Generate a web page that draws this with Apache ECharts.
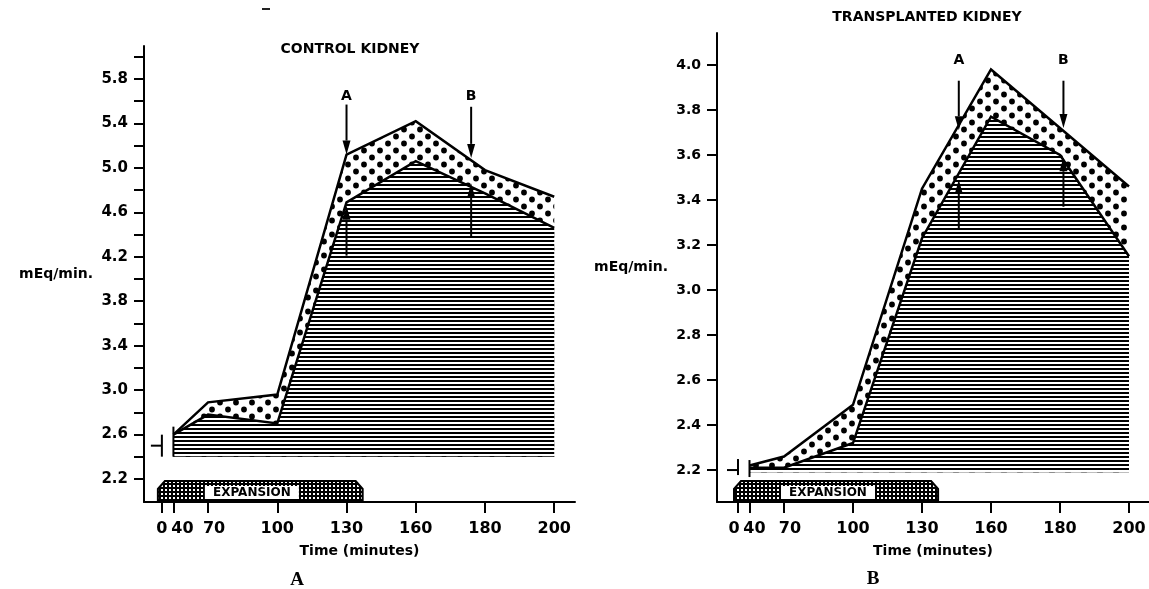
<!DOCTYPE html>
<html>
<head>
<meta charset="utf-8">
<title>Control vs transplanted kidney</title>
<script src="https://cdn.jsdelivr.net/npm/echarts@6/dist/echarts.min.js"></script>
<style>
  html, body { margin: 0; padding: 0; background: #fff; }
  #chart { width: 1149px; height: 589px; }
</style>
</head>
<body>
<div id="chart"></div>
<script>
// time axis, minutes (0 and 40 are squeezed next to each other on the paper)
const TICK_MINUTES = [0, 40, 70, 100, 130, 160, 180, 200]
const TIMES = [40, 70, 100, 130, 160, 180, 200]
const EXPANSION = [0, 137]

// A - control kidney (mEq/min)
const CONTROL_UPPER = [2.60, 2.89, 2.96, 5.12, 5.42, 4.98, 4.74]
const CONTROL_LOWER = [2.60, 2.78, 2.70, 4.69, 5.06, 4.77, 4.46]
const CONTROL_BASELINE = 2.5
const CONTROL_FLOOR = 2.4
const CONTROL_Y_TICKS = [2.2, 2.4, 2.6, 2.8, 3.0, 3.2, 3.4, 3.6, 3.8, 4.0, 4.2, 4.4, 4.6, 4.8, 5.0, 5.2, 5.4, 5.6, 5.8, 6.0]
const CONTROL_Y_LABELS = [2.2, 2.6, 3.0, 3.4, 3.8, 4.2, 4.6, 5.0, 5.4, 5.8]
const CONTROL_ARROW_TIMES = [130, 176, 130, 176]
const CONTROL_ARROW_FROM = [5.57, 5.55, 4.21, 4.38]
const CONTROL_ARROW_TO = [5.12, 5.09, 4.66, 4.86]
const CONTROL_ARROW_NAMES = ['A', 'B', '', '']
const CONTROL_LETTER_LEVEL = 5.64

// B - transplanted kidney (mEq/min)
const TRANSPLANT_UPPER = [2.22, 2.26, 2.49, 3.45, 3.98, 3.72, 3.46]
const TRANSPLANT_LOWER = [2.21, 2.21, 2.32, 3.23, 3.77, 3.60, 3.15]
const TRANSPLANT_BASELINE = 2.2
const TRANSPLANT_FLOOR = 2.19
const TRANSPLANT_Y_TICKS = [2.2, 2.4, 2.6, 2.8, 3.0, 3.2, 3.4, 3.6, 3.8, 4.0]
const TRANSPLANT_Y_LABELS = [2.2, 2.4, 2.6, 2.8, 3.0, 3.2, 3.4, 3.6, 3.8, 4.0]
const TRANSPLANT_ARROW_TIMES = [146, 181, 146, 181]
const TRANSPLANT_ARROW_FROM = [3.93, 3.93, 3.27, 3.37]
const TRANSPLANT_ARROW_TO = [3.71, 3.72, 3.49, 3.59]
const TRANSPLANT_ARROW_NAMES = ['A', 'B', '', '']
const TRANSPLANT_LETTER_LEVEL = 4.02

// where each tick minute sits on the (uneven) time axis
const TICK_SLOTS = [4 / 3, 1.5, 2, 3, 4, 5, 6, 7]

const FONT = 'DejaVu Sans'

function toSlot(t) {
  let i = 0
  while (i < TICK_MINUTES.length - 2 && t > TICK_MINUTES[i + 1]) i++
  const k0 = TICK_MINUTES[i], k1 = TICK_MINUTES[i + 1]
  return TICK_SLOTS[i] + (t - k0) / (k1 - k0) * (TICK_SLOTS[i + 1] - TICK_SLOTS[i])
}

// fill patterns
function makePattern(w, h, draw) {
  const c = document.createElement('canvas')
  c.width = w
  c.height = h
  draw(c.getContext('2d'))
  return { image: c, repeat: 'repeat' }
}
const hatch = makePattern(4, 4, (ctx) => {
  ctx.fillStyle = '#fff'
  ctx.fillRect(0, 0, 4, 4)
  ctx.fillStyle = '#000'
  ctx.fillRect(0, 0, 4, 2)
})
const dots = makePattern(16, 14, (ctx) => {
  ctx.fillStyle = '#fff'
  ctx.fillRect(0, 0, 16, 14)
  ctx.fillStyle = '#000'
  ctx.beginPath()
  ctx.arc(4, 3.5, 2.9, 0, Math.PI * 2)
  ctx.closePath()
  ctx.arc(12, 10.5, 2.9, 0, Math.PI * 2)
  ctx.closePath()
  ctx.fill()
})
const stipple = makePattern(4, 4, (ctx) => {
  ctx.fillStyle = '#000'
  ctx.fillRect(0, 0, 4, 4)
  ctx.fillStyle = '#fff'
  ctx.fillRect(1, 1, 2, 2)
})

const PANELS = [
  {
    grid: { left: 144, top: 46, width: 431, height: 456 },
    xRange: [1.075, 7.3],
    yRange: [1.993, 6.097],
    yTicks: CONTROL_Y_TICKS,
    yLabels: CONTROL_Y_LABELS,
    yFont: 15,
    yNameGap: 51,
    upper: CONTROL_UPPER,
    lower: CONTROL_LOWER,
    floor: CONTROL_FLOOR,
    baseline: CONTROL_BASELINE,
    arrowTimes: CONTROL_ARROW_TIMES,
    arrowFrom: CONTROL_ARROW_FROM,
    arrowTo: CONTROL_ARROW_TO,
    arrowNames: CONTROL_ARROW_NAMES,
    letterLevel: CONTROL_LETTER_LEVEL,
    labelShift: [0, 9, 6, 0, 0, 0, 0, 0],
    marker: { up0: 11, down0: 11, up40: 19, down40: 11 }
  },
  {
    grid: { left: 717, top: 33, width: 432, height: 469 },
    xRange: [1.029, 7.29],
    yRange: [2.058, 4.142],
    yTicks: TRANSPLANT_Y_TICKS,
    yLabels: TRANSPLANT_Y_LABELS,
    yFont: 14,
    yNameGap: 49,
    upper: TRANSPLANT_UPPER,
    lower: TRANSPLANT_LOWER,
    floor: TRANSPLANT_FLOOR,
    baseline: TRANSPLANT_BASELINE,
    arrowTimes: TRANSPLANT_ARROW_TIMES,
    arrowFrom: TRANSPLANT_ARROW_FROM,
    arrowTo: TRANSPLANT_ARROW_TO,
    arrowNames: TRANSPLANT_ARROW_NAMES,
    letterLevel: TRANSPLANT_LETTER_LEVEL,
    labelShift: [-4, 5, 6, 0, 0, 0, 0, 0],
    marker: { up0: 11, down0: 5, up40: 10, down40: 7 }
  }
]

const option = {
  backgroundColor: '#fff',
  animation: false,
  grid: [],
  xAxis: [],
  yAxis: [],
  series: [],
  graphic: [
    { type: 'text', x: 350, y: 49, style: { text: 'CONTROL KIDNEY', font: 'bold 14px ' + FONT, fill: '#000', align: 'center', verticalAlign: 'middle' } },
    { type: 'text', x: 927, y: 17, style: { text: 'TRANSPLANTED KIDNEY', font: 'bold 14px ' + FONT, fill: '#000', align: 'center', verticalAlign: 'middle' } },
    { type: 'text', x: 297, y: 580, style: { text: 'A', font: 'bold 19px "Liberation Serif"', fill: '#000', align: 'center', verticalAlign: 'middle' } },
    { type: 'text', x: 873, y: 579, style: { text: 'B', font: 'bold 19px "Liberation Serif"', fill: '#000', align: 'center', verticalAlign: 'middle' } },
    { type: 'rect', shape: { x: 262, y: 8, width: 8, height: 2 }, style: { fill: '#222' } }
  ]
}

PANELS.forEach((p, i) => {
  option.grid.push(Object.assign({ outerBoundsMode: 'none' }, p.grid))

  const rich = {}
  p.labelShift.forEach((s, k) => {
    rich['s' + k] = {
      fontFamily: FONT,
      fontWeight: 'bold',
      fontSize: 16,
      color: '#000',
      padding: s > 0 ? [0, 0, 0, 2 * s] : [0, -2 * s, 0, 0]
    }
  })

  option.xAxis.push({
    gridIndex: i,
    type: 'value',
    min: p.xRange[0],
    max: p.xRange[1],
    name: 'Time (minutes)',
    nameLocation: 'middle',
    nameGap: 42,
    nameTextStyle: { fontFamily: FONT, fontWeight: 'bold', fontSize: 14, color: '#000' },
    splitLine: { show: false },
    axisLine: { lineStyle: { color: '#000', width: 2 } },
    axisTick: { customValues: TICK_SLOTS, length: 11, lineStyle: { color: '#000', width: 2 } },
    axisLabel: {
      customValues: TICK_SLOTS,
      margin: 19,
      fontFamily: FONT,
      fontWeight: 'bold',
      fontSize: 16,
      color: '#000',
      rich: rich,
      formatter: (v) => {
        const k = TICK_SLOTS.findIndex((s) => Math.abs(s - v) < 0.01)
        if (k < 0) return ''
        const txt = String(TICK_MINUTES[k])
        return p.labelShift[k] ? '{s' + k + '|' + txt + '}' : txt
      }
    }
  })

  option.yAxis.push({
    gridIndex: i,
    type: 'value',
    min: p.yRange[0],
    max: p.yRange[1],
    name: 'mEq/min.',
    nameLocation: 'middle',
    nameRotate: 0,
    nameGap: p.yNameGap,
    nameTextStyle: { fontFamily: FONT, fontWeight: 'bold', fontSize: 14, color: '#000' },
    splitLine: { show: false },
    axisLine: { show: true, lineStyle: { color: '#000', width: 2 } },
    axisTick: { show: true, customValues: p.yTicks, length: 10, lineStyle: { color: '#000', width: 2 } },
    axisLabel: {
      customValues: p.yLabels,
      margin: 16,
      fontFamily: FONT,
      fontWeight: 'bold',
      fontSize: p.yFont,
      color: '#000',
      formatter: (v) => v.toFixed(1)
    }
  })

  // dotted band: area under the upper curve, later covered by the hatched part
  option.series.push({
    type: 'line',
    xAxisIndex: i,
    yAxisIndex: i,
    data: TIMES.map((t, k) => [toSlot(t), p.upper[k]]),
    symbol: 'none',
    silent: true,
    z: 2,
    lineStyle: { color: '#000', width: 2.5, join: 'miter' },
    areaStyle: { color: dots, opacity: 1, origin: p.floor }
  })
  // hatched: area under the lower curve
  option.series.push({
    type: 'line',
    xAxisIndex: i,
    yAxisIndex: i,
    data: TIMES.map((t, k) => [toSlot(t), p.lower[k]]),
    symbol: 'none',
    silent: true,
    z: 3,
    lineStyle: { color: '#000', width: 2.5, join: 'miter' },
    areaStyle: { color: hatch, opacity: 1, origin: p.floor }
  })

  // control value marker at time 0 plus the break at 40
  option.series.push({
    type: 'custom',
    xAxisIndex: i,
    yAxisIndex: i,
    silent: true,
    z: 4,
    data: [[toSlot(0), p.baseline, toSlot(40)]],
    encode: { x: [0, 2], y: 1 },
    renderItem: (params, api) => {
      const m = p.marker
      const a = api.coord([api.value(0), api.value(1)])
      const x40 = api.coord([api.value(2), api.value(1)])[0]
      const st = { stroke: '#000', lineWidth: 2 }
      return {
        type: 'group',
        children: [
          { type: 'line', shape: { x1: a[0] - 11, y1: a[1], x2: a[0], y2: a[1] }, style: st },
          { type: 'line', shape: { x1: a[0], y1: a[1] - m.up0, x2: a[0], y2: a[1] + m.down0 }, style: st },
          { type: 'line', shape: { x1: x40, y1: a[1] - m.up40, x2: x40, y2: a[1] + m.down40 }, style: st }
        ]
      }
    }
  })

  // expansion bar sitting on the time axis
  option.series.push({
    type: 'custom',
    xAxisIndex: i,
    yAxisIndex: i,
    silent: true,
    z: 4,
    data: [[toSlot(EXPANSION[0]), toSlot(EXPANSION[1]), p.yRange[0]]],
    encode: { x: [0, 1], y: 2 },
    renderItem: (params, api) => {
      const cs = params.coordSys
      const bottom = cs.y + cs.height
      const top = bottom - 21
      const x0 = api.coord([api.value(0), api.value(2)])[0] - 4
      const x1 = api.coord([api.value(1), api.value(2)])[0]
      return {
        type: 'group',
        children: [
          {
            type: 'polygon',
            shape: { points: [[x0, bottom], [x0, top + 8], [x0 + 7, top], [x1 - 7, top], [x1, top + 8], [x1, bottom]] },
            style: { fill: stipple, stroke: '#000', lineWidth: 2 }
          },
          { type: 'rect', shape: { x: x0 + 47, y: top + 5, width: 94, height: 13 }, style: { fill: '#fff' } },
          {
            type: 'text',
            x: x0 + 94,
            y: top + 12,
            style: { text: 'EXPANSION', font: 'bold 12px ' + FONT, fill: '#000', align: 'center', verticalAlign: 'middle' }
          }
        ]
      }
    }
  })

  // A / B arrows
  option.series.push({
    type: 'custom',
    xAxisIndex: i,
    yAxisIndex: i,
    silent: true,
    z: 5,
    clip: false,
    data: p.arrowTimes.map((t, k) => [toSlot(t), p.arrowFrom[k], p.arrowTo[k]]),
    encode: { x: 0, y: [1, 2] },
    renderItem: (params, api) => {
      const s = api.coord([api.value(0), api.value(1)])
      const e = api.coord([api.value(0), api.value(2)])
      const dir = e[1] > s[1] ? 1 : -1
      const head = 14
      const children = [
        { type: 'line', shape: { x1: s[0], y1: s[1], x2: e[0], y2: e[1] - dir * head }, style: { stroke: '#000', lineWidth: 2 } },
        {
          type: 'polygon',
          shape: { points: [[e[0], e[1]], [e[0] - 4, e[1] - dir * head], [e[0] + 4, e[1] - dir * head]] },
          style: { fill: '#000' }
        }
      ]
      const name = p.arrowNames[params.dataIndex]
      if (name) {
        const l = api.coord([api.value(0), p.letterLevel])
        children.push({
          type: 'text',
          x: l[0],
          y: l[1],
          style: { text: name, font: 'bold 14px ' + FONT, fill: '#000', align: 'center', verticalAlign: 'middle' }
        })
      }
      return { type: 'group', children: children }
    }
  })
})

const chart = echarts.init(document.getElementById('chart'))
chart.setOption(option)
window.addEventListener('resize', () => chart.resize())
</script>
</body>
</html>
